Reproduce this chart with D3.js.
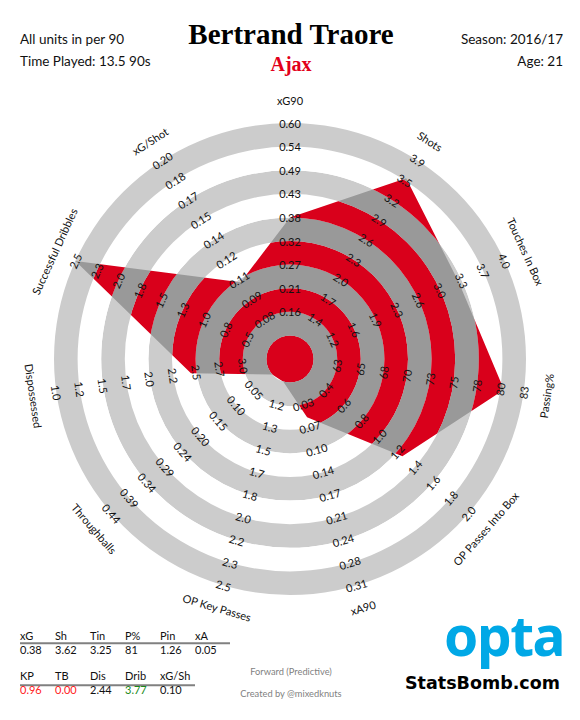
<!DOCTYPE html>
<html>
<head>
<meta charset="utf-8">
<script src="https://cdn.jsdelivr.net/npm/d3@7"></script>
<style>
  body { margin: 0; background: #fff; }
  text { font-family: Lato, 'Open Sans', sans-serif; fill: #111; }
</style>
</head>
<body>
<div id="chart"></div>
<script>
// radar data, clockwise from the top
const metrics = ['xG90', 'Shots', 'Touches In Box', 'Passing%', 'OP Passes Into Box', 'xA90',
  'OP Key Passes', 'Throughballs', 'Dispossessed', 'Successful Dribbles', 'xG/Shot'];
const playerValues = [0.38, 3.62, 3.25, 80.9, 1.26, 0.05, 0.96, 0.00, 2.44, 3.77, 0.108];

// ring labels for rings 2..10 of each spoke
const tickLabels = [
  ['0.16', '0.21', '0.27', '0.32', '0.38', '0.43', '0.49', '0.54', '0.60'],
  ['1.4', '1.7', '2.0', '2.3', '2.6', '2.9', '3.2', '3.5', '3.9'],
  ['1.2', '1.6', '1.9', '2.3', '2.6', '3.0', '3.3', '3.7', '4.0'],
  ['63', '65', '68', '70', '73', '75', '78', '80', '83'],
  ['0.4', '0.6', '0.8', '1.0', '1.2', '1.4', '1.6', '1.8', '2.0'],
  ['0.03', '0.07', '0.10', '0.14', '0.17', '0.21', '0.24', '0.28', '0.31'],
  ['1.2', '1.3', '1.5', '1.7', '1.8', '2.0', '2.2', '2.3', '2.5'],
  ['0.05', '0.10', '0.15', '0.20', '0.24', '0.29', '0.34', '0.39', '0.44'],
  ['3.0', '2.7', '2.5', '2.2', '2.0', '1.7', '1.5', '1.2', '1.0'],
  ['0.5', '0.8', '1.0', '1.3', '1.5', '1.8', '2.0', '2.3', '2.5'],
  ['0.08', '0.09', '0.11', '0.12', '0.14', '0.15', '0.17', '0.18', '0.20']
];

// summary table under the radar (metric index per column)
const tableHead1 = ['xG', 'Sh', 'Tin', 'P%', 'Pin', 'xA'];
const tableVals1 = ['0.38', '3.62', '3.25', '81', '1.26', '0.05'];
const tableIdx1 = [0, 1, 2, 3, 4, 5];
const tableHead2 = ['KP', 'TB', 'Dis', 'Drib', 'xG/Sh'];
const tableVals2 = ['0.96', '0.00', '2.44', '3.77', '0.10'];
const tableIdx2 = [6, 7, 8, 9, 10];

const width = 580;
const height = 720;
const center = { x: 290, y: 359 };
const R = 236;
const nRings = 10;
const ring = R / nRings;

const red = '#d9001b';
const darkGrey = '#999999';
const lightGrey = '#cccccc';

const svg = d3.select('#chart')
  .append('svg')
  .attr('width', width)
  .attr('height', height);

// one linear scale per spoke: ring 1 -> ring 10, clamped
const scales = tickLabels.map(labels => {
  const lo = +labels[0];
  const hi = +labels[labels.length - 1];
  const step = (hi - lo) / (labels.length - 1);
  return d3.scaleLinear()
    .domain([lo - step, hi])
    .range([ring, R])
    .clamp(true);
});

const angle = i => i * 2 * Math.PI / metrics.length;
const deg = a => a * 180 / Math.PI;
// keep text upright on the lower half
const tangent = a => {
  const d = deg(a);
  return (d > 90 && d < 270) ? d - 180 : d;
};

const radar = svg.append('g')
  .attr('transform', `translate(${center.x},${center.y})`);

const arc = d3.arc();
const bands = d3.range(nRings).map(k => ({
  k: k,
  innerRadius: k * ring,
  outerRadius: (k + 1) * ring,
  startAngle: 0,
  endAngle: 2 * Math.PI
}));

radar.selectAll('.band')
  .data(bands)
  .enter()
  .append('path')
  .classed('band', true)
  .attr('d', arc)
  .attr('fill', d => d.k % 2 ? lightGrey : '#fff');

const line = d3.lineRadial()
  .angle((d, i) => angle(i))
  .radius((d, i) => scales[i](d))
  .curve(d3.curveLinearClosed);

radar.append('clipPath')
  .attr('id', 'player-shape')
  .append('path')
  .attr('d', line(playerValues));

radar.append('g')
  .attr('clip-path', 'url(#player-shape)')
  .selectAll('.band-in')
  .data(bands)
  .enter()
  .append('path')
  .classed('band-in', true)
  .attr('d', arc)
  .attr('fill', d => d.k % 2 ? darkGrey : red);

// ring value labels
metrics.forEach((m, i) => {
  const a = angle(i);
  radar.append('g')
    .selectAll('text')
    .data(tickLabels[i])
    .enter()
    .append('text')
    .attr('transform', (d, j) => {
      const p = d3.pointRadial(a, (j + 2) * ring);
      return `translate(${p[0]},${p[1]}) rotate(${tangent(a)})`;
    })
    .attr('text-anchor', 'middle')
    .attr('dominant-baseline', 'central')
    .style('font-size', '11px')
    .text(d => d);
});

// spoke names
radar.selectAll('.metric')
  .data(metrics)
  .enter()
  .append('text')
  .classed('metric', true)
  .attr('transform', (d, i) => {
    const p = d3.pointRadial(angle(i), R + 23);
    return `translate(${p[0]},${p[1]}) rotate(${tangent(angle(i))})`;
  })
  .attr('text-anchor', 'middle')
  .attr('dominant-baseline', 'central')
  .style('font-size', '11px')
  .text(d => d);

// header
svg.append('text')
  .attr('x', 20).attr('y', 44)
  .style('font-size', '13.5px')
  .text('All units in per 90');
svg.append('text')
  .attr('x', 20).attr('y', 66)
  .style('font-size', '13.5px')
  .text('Time Played: 13.5 90s');
svg.append('text')
  .attr('x', 563).attr('y', 44)
  .attr('text-anchor', 'end')
  .style('font-size', '13.5px')
  .text('Season: 2016/17');
svg.append('text')
  .attr('x', 563).attr('y', 66)
  .attr('text-anchor', 'end')
  .style('font-size', '13.5px')
  .text('Age: 21');
svg.append('text')
  .attr('x', 291).attr('y', 44)
  .attr('text-anchor', 'middle')
  .style('font-family', "'Liberation Serif', serif")
  .style('font-weight', 'bold')
  .style('font-size', '29px')
  .style('fill', '#000')
  .text('Bertrand Traore');
svg.append('text')
  .attr('x', 291).attr('y', 71)
  .attr('text-anchor', 'middle')
  .style('font-family', "'Liberation Serif', serif")
  .style('font-weight', 'bold')
  .style('font-size', '20px')
  .style('fill', '#e2001a')
  .text('Ajax');

// summary table
const valueColour = i => {
  const dom = scales[i].domain();
  const v = playerValues[i];
  if (v < d3.min(dom)) return '#ff1a1a';
  if (v > d3.max(dom)) return '#1a8a1a';
  return '#111';
};

const drawRow = (heads, vals, idx, yHead, yLine, yVal) => {
  const x = d3.scalePoint()
    .domain(heads)
    .range([20, 20 + 35 * (heads.length - 1)]);
  const row = svg.append('g').style('font-size', '11px');
  row.selectAll('.head')
    .data(heads)
    .enter()
    .append('text')
    .attr('x', d => x(d))
    .attr('y', yHead)
    .text(d => d);
  row.append('line')
    .attr('x1', 20)
    .attr('x2', 20 + 35 * heads.length)
    .attr('y1', yLine)
    .attr('y2', yLine)
    .attr('stroke', '#808080')
    .attr('stroke-width', 2);
  row.selectAll('.val')
    .data(vals)
    .enter()
    .append('text')
    .attr('x', (d, i) => x(heads[i]))
    .attr('y', yVal)
    .style('fill', (d, i) => valueColour(idx[i]))
    .text(d => d);
};

drawRow(tableHead1, tableVals1, tableIdx1, 640, 643.3, 654.3);
drawRow(tableHead2, tableVals2, tableIdx2, 680, 685.3, 694.3);

// footer notes
svg.append('text')
  .attr('x', 291).attr('y', 675)
  .attr('text-anchor', 'middle')
  .style('font-size', '9.3px')
  .style('fill', '#7f7f7f')
  .text('Forward (Predictive)');
svg.append('text')
  .attr('x', 291).attr('y', 697)
  .attr('text-anchor', 'middle')
  .style('font-size', '9.3px')
  .style('fill', '#7f7f7f')
  .text('Created by @mixedknuts');

// logos
svg.append('text')
  .attr('x', 444).attr('y', 656)
  .style('font-family', "'Noto Sans', sans-serif")
  .style('font-weight', 'bold')
  .style('font-size', '55px')
  .style('letter-spacing', '-1.5px')
  .style('fill', '#00a8e6')
  .text('opta');
svg.append('text')
  .attr('x', 405).attr('y', 689)
  .style('font-family', "'DejaVu Sans', sans-serif")
  .style('font-weight', 'bold')
  .style('font-size', '17.5px')
  .style('fill', '#000')
  .text('StatsBomb.com');
</script>
</body>
</html>
